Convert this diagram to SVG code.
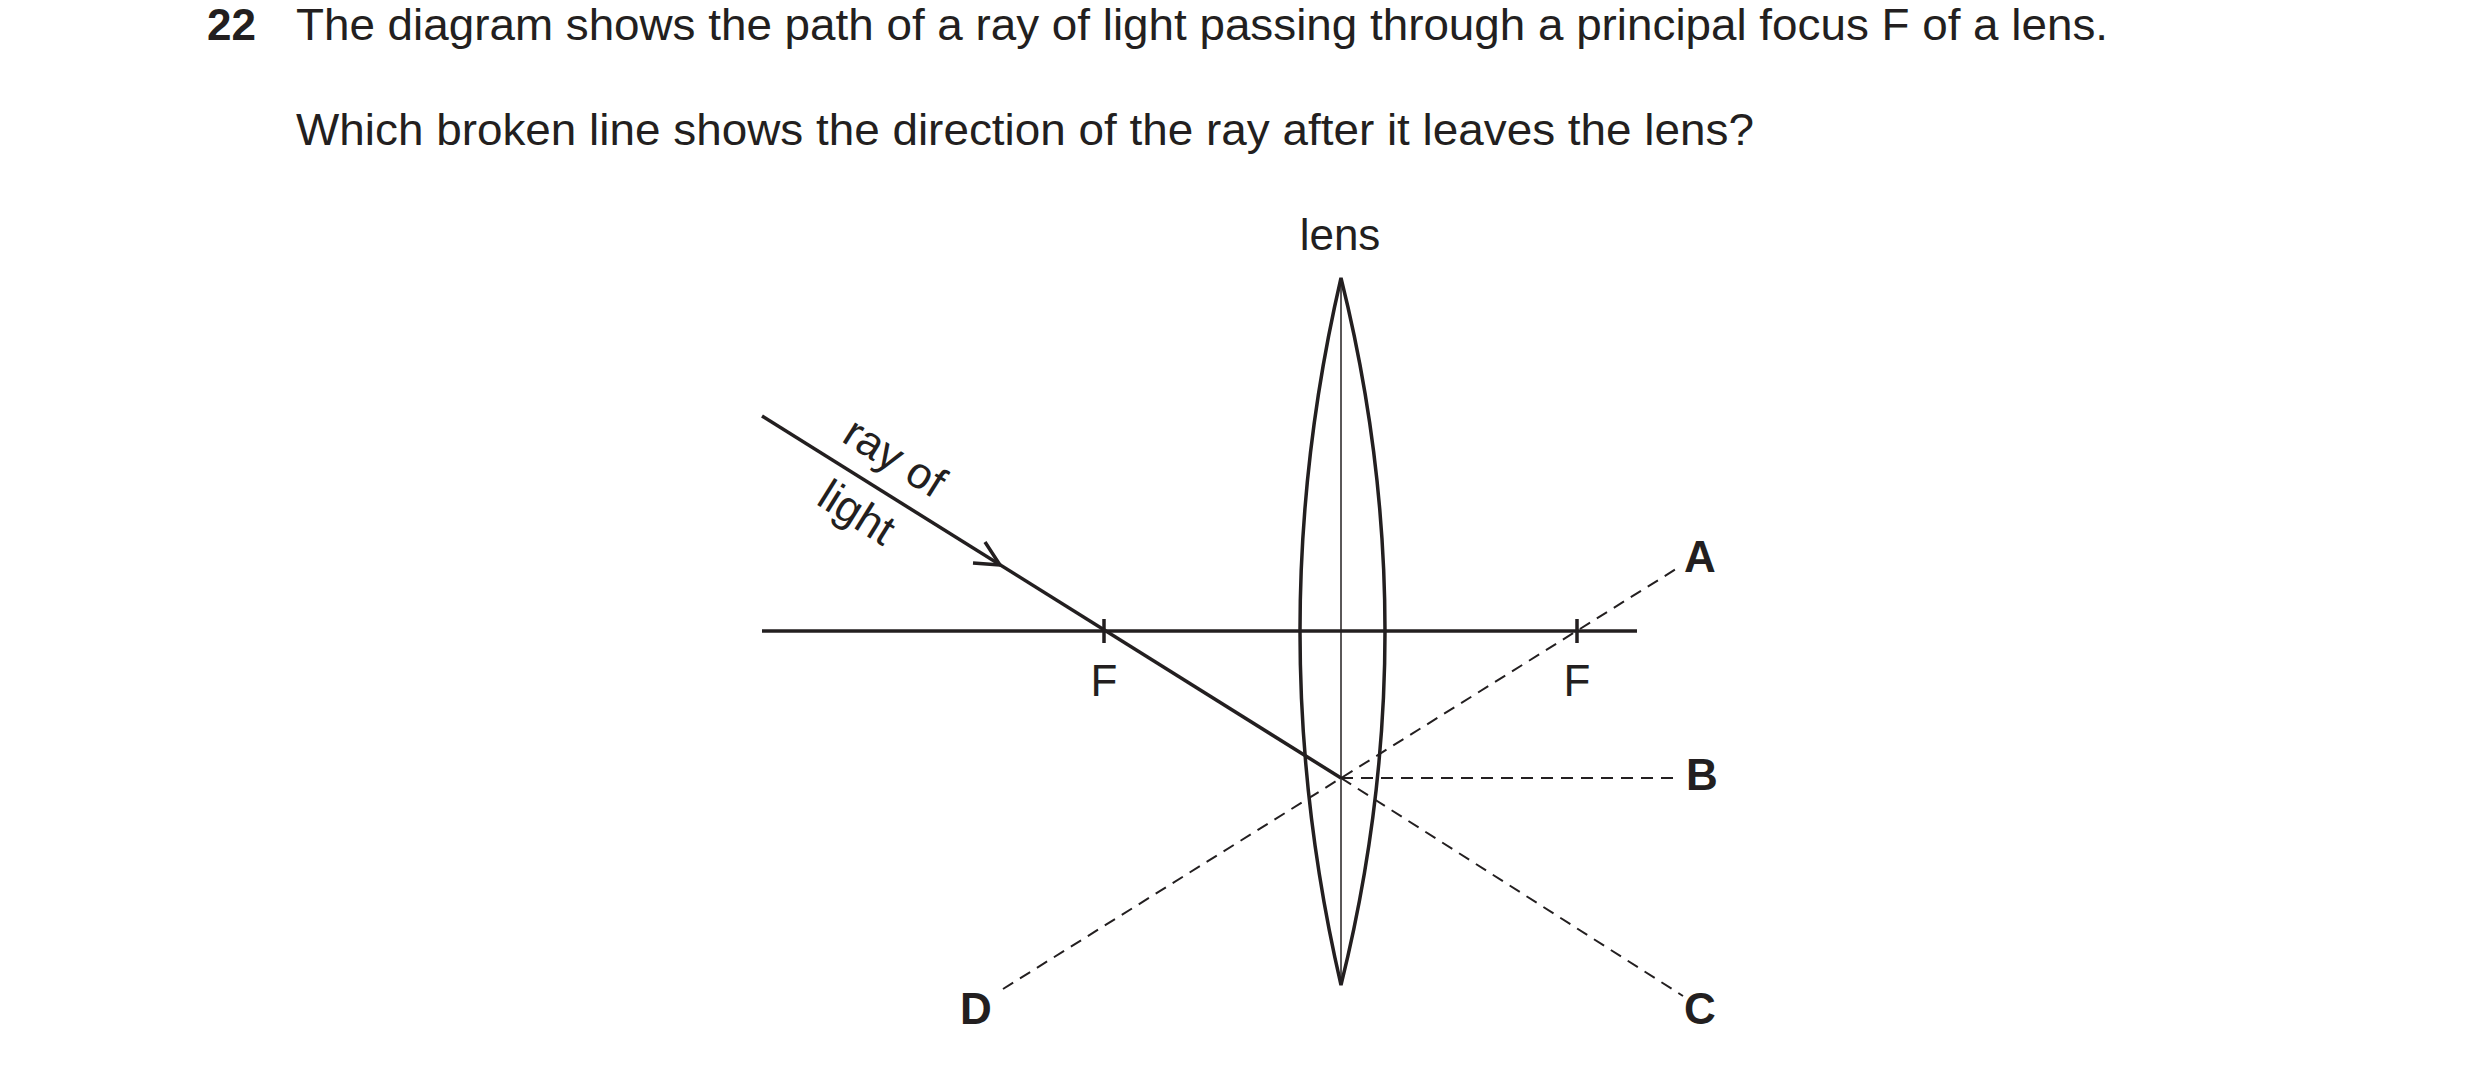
<svg xmlns="http://www.w3.org/2000/svg" width="2480" height="1065" viewBox="0 0 2480 1065">
<style>
text{font-family:"Liberation Sans",Arial,sans-serif;fill:#231f20}
.t{font-size:44px}
.b{font-size:44px;font-weight:bold}
.s{stroke:#231f20;fill:none;stroke-width:3.5}
.d{stroke:#231f20;fill:none;stroke-width:2;stroke-dasharray:12 8}
</style>
<rect width="2480" height="1065" fill="#fff"/>
<g id="question">
<text x="207" y="40" class="b">22</text>
<text x="296" y="40" class="t" textLength="1812" lengthAdjust="spacingAndGlyphs">The diagram shows the path of a ray of light passing through a principal focus F of a lens.</text>
<text x="296" y="145" class="t" textLength="1458" lengthAdjust="spacingAndGlyphs">Which broken line shows the direction of the ray after it leaves the lens?</text>
</g>
<g id="lens">
<path class="s" d="M1341,278 Q1259,631 1341,985 Q1429,631 1341,278 Z"/>
<line x1="1341" y1="278" x2="1341" y2="985" stroke="#231f20" stroke-width="1.5"/>
<text x="1340" y="250" class="t" text-anchor="middle">lens</text>
</g>
<g id="axis">
<line class="s" x1="762" y1="631" x2="1637" y2="631"/>
<line class="s" stroke-width="2" x1="1104" y1="619" x2="1104" y2="643"/>
<line class="s" stroke-width="2" x1="1577" y1="619" x2="1577" y2="643"/>
<text x="1104" y="696" class="t" text-anchor="middle">F</text>
<text x="1577" y="696" class="t" text-anchor="middle">F</text>
</g>
<g id="connectors">
<line class="s" x1="762" y1="416" x2="1341" y2="778"/>
<path class="s" d="M985,542 L1000,565 L973,563"/>
<line class="d" x1="1003" y1="989" x2="1676" y2="569"/>
<line class="d" x1="1341" y1="778" x2="1676" y2="778"/>
<line class="d" x1="1341" y1="778" x2="1683" y2="996"/>
</g>
<g id="labels">
<text class="t" text-anchor="middle" transform="translate(887,470) rotate(32)">ray of</text>
<text class="t" text-anchor="middle" transform="translate(849,525) rotate(32)">light</text>
<text x="1700" y="572" class="b" text-anchor="middle">A</text>
<text x="1702" y="790" class="b" text-anchor="middle">B</text>
<text x="1700" y="1024" class="b" text-anchor="middle">C</text>
<text x="976" y="1024" class="b" text-anchor="middle">D</text>
</g>
</svg>
